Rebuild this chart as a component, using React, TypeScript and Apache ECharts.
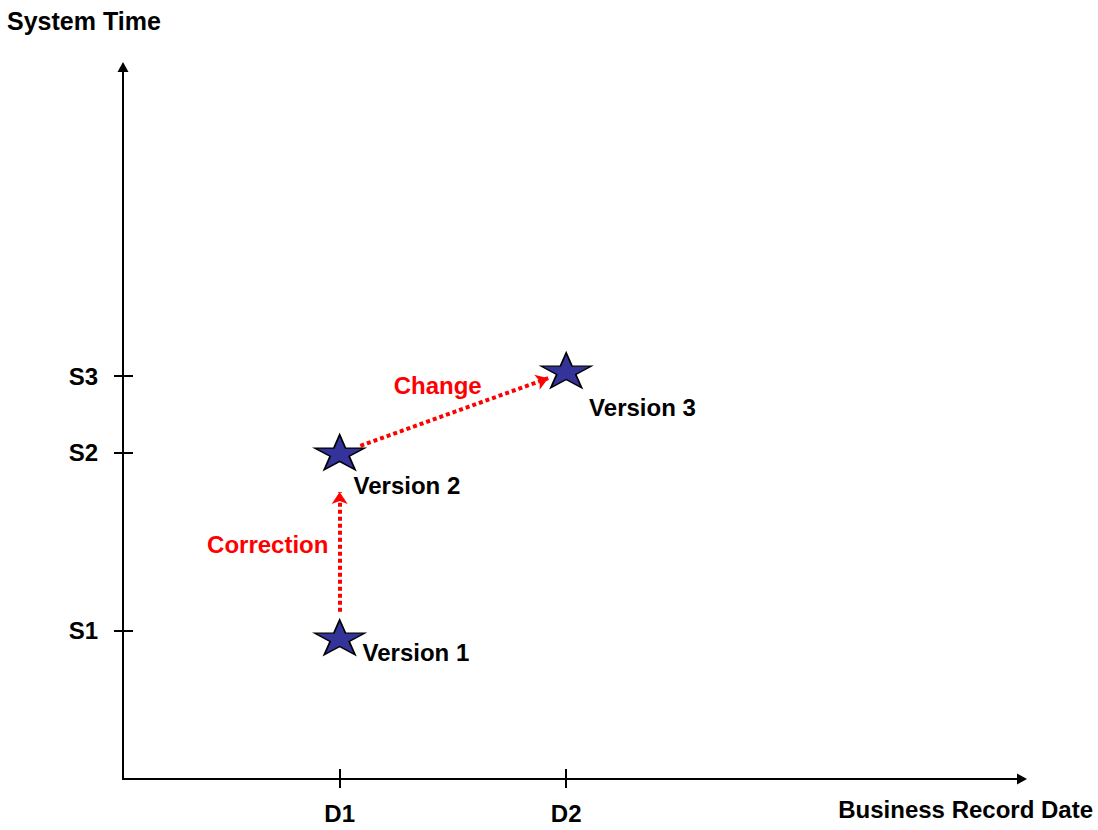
import React, { useEffect, useRef } from "react";
import * as echarts from "echarts";

// ---- data (axis units 0..100 on both axes) ----
const dateTickNames = ["D1", "D2"];
const dateTickValues = [24.1, 49.3];

const systemTickNames = ["S1", "S2", "S3"];
const systemTickValues = [20.8, 45.8, 56.6];

const versionNames = ["Version 1", "Version 2", "Version 3"];
const versionDate = [24.1, 24.1, 49.3];
const versionSystem = [19.9, 45.9, 57.4];

const transitionNames = ["Correction", "Change"];
const transitionFromDate = [24.1, 26.4];
const transitionFromSystem = [23.5, 46.8];
const transitionToDate = [24.1, 47.3];
const transitionToSystem = [40.3, 56.3];
const transitionLabelDate = [16.1, 35.0];
const transitionLabelSystem = [33.0, 55.2];

const xAxisName = "Business Record Date";
const yAxisName = "System Time";

const STAR =
  "path://M50 0 L61.17 34.63 L97.55 34.55 L68.07 55.87 L79.39 90.45 L50 69 L20.61 90.45 L31.93 55.87 L2.45 34.55 L38.83 34.63 Z";

const FONT = '"Liberation Sans", Arial, sans-serif';

const versionLabelOffsets = [
  [-3, 15],
  [-12, 33],
  [-3, 37],
];

function fmt(names: string[], values: number[]) {
  return (v: number) => {
    const i = values.findIndex((x) => Math.abs(x - v) < 1e-6);
    return i >= 0 ? names[i] : "";
  };
}

export default function App() {
  const ref = useRef<HTMLDivElement>(null);
  useEffect(() => {
    if (!ref.current) return;
    const chart = echarts.init(ref.current, undefined, { renderer: "svg" });
    const labelFont = {
      fontFamily: FONT,
      fontWeight: "bold" as const,
      fontSize: 24,
      color: "#000",
    };
    const option: any = {
      animation: false,
      backgroundColor: "#ffffff",
      title: [
        {
          text: yAxisName,
          left: 7,
          top: 8,
          padding: 0,
          textStyle: { ...labelFont, fontSize: 25 },
        },
        {
          text: xAxisName,
          right: 5,
          top: 797,
          padding: 0,
          textStyle: { ...labelFont, fontSize: 24 },
        },
      ],
      grid: { left: 123, right: 76, top: 67, bottom: 51, containLabel: false },
      xAxis: [
        {
          type: "value",
          min: 0,
          max: 100,
          axisLine: {
            show: true,
            symbol: ["none", "triangle"],
            symbolSize: [11, 10],
            lineStyle: { color: "#000", width: 2 },
          },
          axisTick: {
            show: true,
            inside: false,
            length: 9,
            customValues: dateTickValues,
            lineStyle: { color: "#000", width: 2 },
          },
          axisLabel: {
            show: true,
            margin: 22,
            customValues: dateTickValues,
            formatter: fmt(dateTickNames, dateTickValues),
            ...labelFont,
          },
          splitLine: { show: false },
        },
        {
          type: "value",
          min: 0,
          max: 100,
          position: "bottom",
          axisLine: { show: false, onZero: false },
          axisTick: {
            show: true,
            inside: true,
            length: 10,
            customValues: dateTickValues,
            lineStyle: { color: "#000", width: 2 },
          },
          axisLabel: { show: false },
          splitLine: { show: false },
        },
      ],
      yAxis: [
        {
          type: "value",
          min: 0,
          max: 100,
          axisLine: {
            show: true,
            symbol: ["none", "triangle"],
            symbolSize: [11, 10],
            lineStyle: { color: "#000", width: 2 },
          },
          axisTick: {
            show: true,
            inside: false,
            length: 9,
            customValues: systemTickValues,
            lineStyle: { color: "#000", width: 2 },
          },
          axisLabel: {
            show: true,
            margin: 25,
            customValues: systemTickValues,
            formatter: fmt(systemTickNames, systemTickValues),
            ...labelFont,
          },
          splitLine: { show: false },
        },
        {
          type: "value",
          min: 0,
          max: 100,
          position: "left",
          axisLine: { show: false, onZero: false },
          axisTick: {
            show: true,
            inside: true,
            length: 10,
            customValues: systemTickValues,
            lineStyle: { color: "#000", width: 2 },
          },
          axisLabel: { show: false },
          splitLine: { show: false },
        },
      ],
      series: [
        {
          name: "transitions",
          type: "lines",
          coordinateSystem: "cartesian2d",
          xAxisIndex: 0,
          yAxisIndex: 0,
          z: 2,
          symbol: ["none", "arrow"],
          symbolSize: 12,
          lineStyle: {
            color: "#ff0000",
            width: 4,
            type: [4, 3],
            opacity: 1,
            curveness: 0,
          },
          data: transitionNames.map((n, i) => ({
            name: n,
            coords: [
              [transitionFromDate[i], transitionFromSystem[i]],
              [transitionToDate[i], transitionToSystem[i]],
            ],
          })),
        },
        {
          name: "transition labels",
          type: "scatter",
          xAxisIndex: 0,
          yAxisIndex: 0,
          symbol: "circle",
          symbolSize: 1,
          itemStyle: { color: "rgba(0,0,0,0)", opacity: 1 },
          z: 3,
          label: {
            show: true,
            position: "inside",
            formatter: (p: any) => p.name,
            fontFamily: FONT,
            fontWeight: "bold",
            fontSize: 24,
            color: "#ff0000",
            opacity: 1,
          },
          data: transitionNames.map((n, i) => ({
            name: n,
            value: [transitionLabelDate[i], transitionLabelSystem[i]],
          })),
        },
        {
          name: "versions",
          type: "scatter",
          xAxisIndex: 0,
          yAxisIndex: 0,
          z: 4,
          symbol: STAR,
          symbolSize: [50, 35],
          symbolKeepAspect: false,
          itemStyle: {
            color: "#333399",
            borderColor: "#000",
            borderWidth: 1.5,
            opacity: 1,
          },
          data: versionNames.map((n, i) => ({
            name: n,
            value: [versionDate[i], versionSystem[i]],
            label: {
              show: true,
              position: "right",
              distance: 0,
              offset: versionLabelOffsets[i],
              formatter: (p: any) => p.name,
              ...labelFont,
            },
          })),
        },
      ],
    };
    chart.setOption(option);
    return () => chart.dispose();
  }, []);
  return (
    <div
      ref={ref}
      style={{ position: "fixed", left: 0, top: 0, width: 1098, height: 830 }}
    />
  );
}
